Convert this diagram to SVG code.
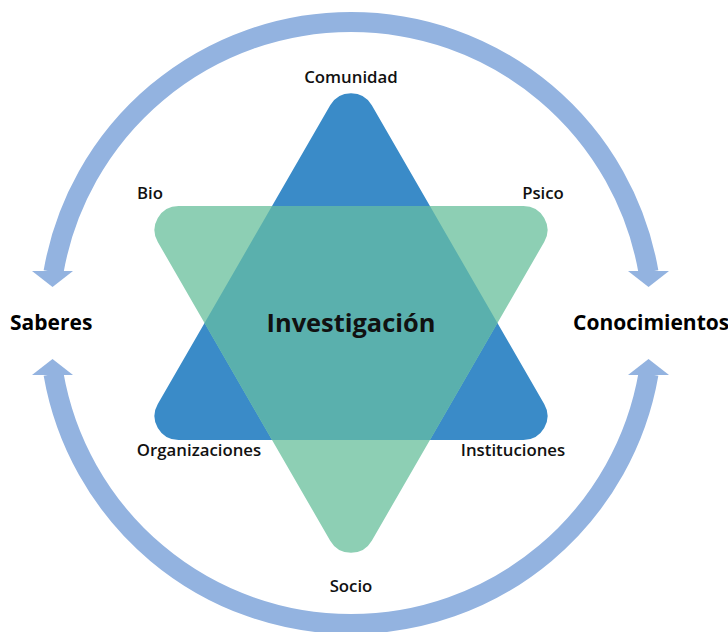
<svg xmlns="http://www.w3.org/2000/svg" width="728" height="632" viewBox="0 0 728 632">
<style>
.lbl{font-family:"Open Sans","Noto Sans",sans-serif;font-weight:600;font-size:16.8px;fill:#111;text-anchor:middle}
.big{font-family:"Open Sans","Noto Sans",sans-serif;font-weight:700;font-size:21px;fill:#000}
.ctr{font-family:"Open Sans","Noto Sans",sans-serif;font-weight:700;font-size:25.4px;fill:#111;text-anchor:middle}
.arc{fill:none;stroke:#93B3E0;stroke-width:20}
.head{fill:#93B3E0}
</style>
<defs>
<path id="blueTri" d="M 330.2 105.3 A 24 24 0 0 1 371.8 105.3 L 544.2 404 A 24 24 0 0 1 523.4 440 L 178.6 440 A 24 24 0 0 1 157.8 404 Z"/>
<path id="greenTri" d="M 330.2 540.7 A 24 24 0 0 0 371.8 540.7 L 544.2 242 A 24 24 0 0 0 523.4 206 L 178.6 206 A 24 24 0 0 0 157.8 242 Z"/>
<clipPath id="blueClip"><use href="#blueTri"/></clipPath>
</defs>
<g id="connectors">
<path class="arc" d="M 53.5 272 A 302 302 0 0 1 648.5 272"/>
<polygon class="head" points="32,271 73,271 52.5,287"/>
<polygon class="head" points="628,271 669,271 648.5,287"/>
<path class="arc" d="M 53.5 374 A 302 302 0 0 0 648.5 374"/>
<polygon class="head" points="32,375 73,375 52.5,359"/>
<polygon class="head" points="628,375 669,375 648.5,359"/>
</g>
<g id="star">
<use href="#blueTri" fill="#3A8BC8"/>
<use href="#greenTri" fill="#8DCFB4"/>
<use href="#greenTri" fill="#5AB0AD" clip-path="url(#blueClip)"/>
</g>
<g id="investigacion"><text class="ctr" x="351" y="332">Investigación</text></g>
<g id="saberes"><text class="big" x="10" y="330">Saberes</text></g>
<g id="conocimientos"><text class="big" x="573" y="330">Conocimientos</text></g>
<g id="comunidad"><text class="lbl" x="351" y="83">Comunidad</text></g>
<g id="bio"><text class="lbl" x="150" y="199">Bio</text></g>
<g id="psico"><text class="lbl" x="543" y="199">Psico</text></g>
<g id="organizaciones"><text class="lbl" x="199" y="456">Organizaciones</text></g>
<g id="instituciones"><text class="lbl" x="513" y="456">Instituciones</text></g>
<g id="socio"><text class="lbl" x="351" y="592">Socio</text></g>
</svg>
